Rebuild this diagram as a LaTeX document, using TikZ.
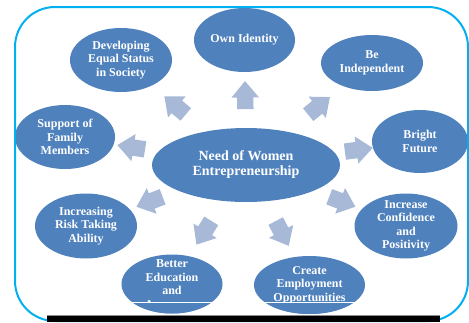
\documentclass[tikz,border=0pt]{standalone}
\usepackage{fontspec}
\setmainfont{Liberation Serif}
\usetikzlibrary{shapes,arrows}
\definecolor{bubblefill}{RGB}{79,129,189}
\definecolor{arrowfill}{RGB}{167,185,214}
\definecolor{framecyan}{RGB}{0,176,240}
\tikzstyle{bubble} = [ellipse, fill=bubblefill, text=white, align=center,
    inner xsep=0pt, inner ysep=-10pt, font=\bfseries\fontsize{12}{13.5}\selectfont]
\tikzstyle{hub} = [bubble, minimum width=188pt, minimum height=74pt,
    font=\bfseries\fontsize{14}{15}\selectfont]
\tikzstyle{fatarrow} = [single arrow, fill=arrowfill, sloped, allow upside down,
    text height=0pt, text depth=0pt, inner xsep=0pt, inner ysep=8pt,
    minimum height=28pt, single arrow head extend=5.5pt, single arrow tip angle=80]
\tikzstyle{frame} = [draw=framecyan, line width=2pt, rounded corners=40pt]

\begin{document}
\begin{tikzpicture}[x=1pt, y=-1pt]
		\useasboundingbox (0,0) rectangle (469,322);
		\node [hub] (need) at (246,165) {Need of Women\\Entrepreneurship};
		\node [bubble, minimum width=101pt, minimum height=64pt] (identity) at (244.5,40) {Own Identity};
		\node [bubble, minimum width=102pt, minimum height=64pt] (status) at (121,60) {Developing\\Equal Status\\in Society};
		\node [bubble, minimum width=102pt, minimum height=56pt] (indep) at (372,63) {Be\\Independent};
		\node [bubble, minimum width=100pt, minimum height=64pt] (family) at (65,137) {Support of\\Family\\Members};
		\node [bubble, minimum width=96pt, minimum height=63pt] (future) at (420,141.5) {Bright\\Future};
		\node [bubble, minimum width=102pt, minimum height=65pt] (risk) at (86,226) {Increasing\\Risk Taking\\Ability};
		\node [bubble, minimum width=103pt, minimum height=65pt] (confid) at (406,226) {Increase\\Confidence\\and\\Positivity};
		\node [bubble, minimum width=101pt, minimum height=59pt] (edu) at (172,284) {Better\\Education\\and\\Awareness};
		\node [bubble, minimum width=111pt, minimum height=58pt] (employ) at (309.5,285) {Create\\Employment\\Opportunities};
		
		\path (need) -- node [fatarrow] {} (identity);
		\path (need) -- node [fatarrow] {} (status);
		\path (need) -- node [fatarrow] {} (indep);
		\path (need) -- node [fatarrow] {} (family);
		\path (need) -- node [fatarrow] {} (future);
		\path (need) -- node [fatarrow] {} (risk);
		\path (need) -- node [fatarrow] {} (confid);
		\path (need) -- node [fatarrow] {} (edu);
		\path (need) -- node [fatarrow] {} (employ);
		
		% cut along the bottom row
		\begin{scope}
			\clip (0,303) rectangle (469,322);
			\fill [bubblefill] (edu.center) ellipse [x radius=50.5, y radius=29.5];
			\fill [bubblefill] (employ.center) ellipse [x radius=55.5, y radius=29];
		\end{scope}
		\fill [white] (115,302) rectangle (370,303);
		
		\draw [frame] (15,7) rectangle (468,321);
		\fill [black!45] (47,314.5) rectangle (440,316);
		\fill [black] (47,316) rectangle (440,322);
	\end{tikzpicture}
\end{document}
